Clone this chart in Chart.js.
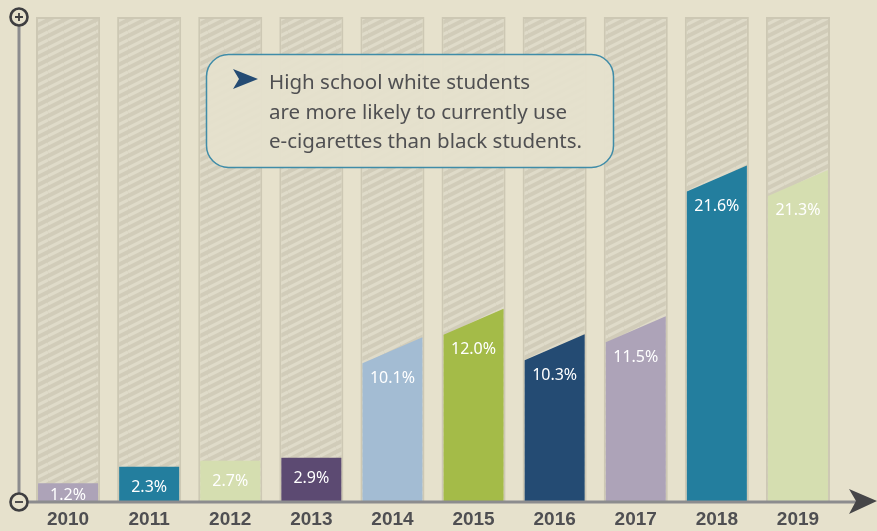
<!DOCTYPE html>
<html>
<head>
<meta charset="utf-8">
<script src="https://cdn.jsdelivr.net/npm/chart.js@4.4.1/dist/chart.umd.min.js"></script>
<style>
  html, body { margin: 0; padding: 0; background: #e6e1cc; }
  #wrap { width: 877px; height: 531px; }
</style>
</head>
<body>
<div id="wrap"><canvas id="myChart" width="877" height="531"></canvas></div>
<script>
const years = ["2010", "2011", "2012", "2013", "2014", "2015", "2016", "2017", "2018", "2019"];
const usage = [1.2, 2.3, 2.7, 2.9, 10.1, 12.0, 10.3, 11.5, 21.6, 21.3];
const barColors = ["#ada3b8", "#237e9e", "#d5deb0", "#5c4a72", "#a3bcd3", "#a4bb48", "#244b73", "#ada3b8", "#237e9e", "#d5deb0"];
const noteLines = ["High school white students", "are more likely to currently use", "e-cigarettes than black students."];
const yMax = 32.4;
const backdrop = years.map(() => yMax);

const ctx = document.getElementById("myChart").getContext("2d");

function makeHatch() {
  const c = document.createElement("canvas");
  c.width = 16;
  c.height = 8;
  const g = c.getContext("2d");
  g.fillStyle = "#d1ccb9";
  g.fillRect(0, 0, 16, 8);
  g.strokeStyle = "#dfdbc9";
  g.lineWidth = 3.2;
  for (let k = -1; k <= 1; k++) {
    g.beginPath();
    g.moveTo(0, 8 + k * 8);
    g.lineTo(16, k * 8);
    g.stroke();
  }
  return g.createPattern(c, "repeat");
}

// colored bars with slanted tops
const slantBars = {
  id: "slantBars",
  beforeDatasetDraw(chart, args) {
    if (args.index !== 0) return;
    const c = chart.ctx;
    const meta = chart.getDatasetMeta(0);
    c.save();
    meta.data.forEach((bar, i) => {
      const p = bar.getProps(["x", "y", "base", "width"], true);
      const l = p.x - p.width / 2;
      const r = p.x + p.width / 2;
      const s = p.base - p.y > 80 ? 13 : 0;
      c.fillStyle = barColors[i];
      c.beginPath();
      c.moveTo(l, p.base);
      c.lineTo(l, p.y + s);
      c.lineTo(r, p.y - s);
      c.lineTo(r, p.base);
      c.closePath();
      c.fill();
    });
    c.restore();
    return false;
  },
  afterDatasetsDraw(chart) {
    const c = chart.ctx;
    const meta = chart.getDatasetMeta(0);
    c.save();
    c.fillStyle = "#ffffff";
    c.font = "16px 'Noto Sans', Lato, sans-serif";
    c.textAlign = "center";
    c.textBaseline = "middle";
    meta.data.forEach((bar, i) => {
      const p = bar.getProps(["x", "y", "base"], true);
      const h = p.base - p.y;
      const off = h > 80 ? 28 : Math.min(21, h - 6);
      c.fillText(usage[i].toFixed(1) + "%", p.x, p.y + off);
    });
    c.restore();
  }
};

// axes, arrow, circles and the note box
const decor = {
  id: "decor",
  afterDatasetsDraw(chart) {
    const c = chart.ctx;
    c.save();
    // axis lines
    c.strokeStyle = "#8c8c8e";
    c.lineWidth = 3;
    c.beginPath();
    c.moveTo(19, 26);
    c.lineTo(19, 493);
    c.moveTo(28, 502);
    c.lineTo(856, 502);
    c.stroke();
    // arrow head
    c.fillStyle = "#464648";
    c.beginPath();
    c.moveTo(877, 501);
    c.lineTo(849, 489);
    c.lineTo(856, 501);
    c.lineTo(849, 514);
    c.closePath();
    c.fill();
    // plus / minus circles
    [[17, true], [502, false]].forEach(([cy, plus]) => {
      c.fillStyle = "#e6e1cc";
      c.strokeStyle = "#3e3e40";
      c.lineWidth = 2.6;
      c.beginPath();
      c.arc(19, cy, 8.5, 0, Math.PI * 2);
      c.fill();
      c.stroke();
      c.lineWidth = 1.8;
      c.beginPath();
      c.moveTo(15, cy);
      c.lineTo(23, cy);
      if (plus) {
        c.moveTo(19, cy - 4);
        c.lineTo(19, cy + 4);
      }
      c.stroke();
    });
    // note box
    c.fillStyle = "rgba(229,225,205,0.96)";
    c.strokeStyle = "#3f8ca8";
    c.lineWidth = 1.5;
    c.beginPath();
    c.roundRect(206.5, 54.5, 407, 113, 22);
    c.fill();
    c.stroke();
    c.fillStyle = "#244b73";
    c.beginPath();
    c.moveTo(258, 79);
    c.lineTo(233, 69);
    c.lineTo(239, 79);
    c.lineTo(233, 89);
    c.closePath();
    c.fill();
    c.fillStyle = "#505052";
    c.font = "20.5px 'Noto Sans', Lato, sans-serif";
    c.textAlign = "left";
    c.textBaseline = "alphabetic";
    noteLines.forEach((t, i) => c.fillText(t, 269, 89 + i * 29.5));
    c.restore();
  }
};

const config = {
  type: "bar",
  data: {
    labels: years,
    datasets: [
      {
        data: usage,
        backgroundColor: barColors,
        barPercentage: 0.74,
        categoryPercentage: 1,
        grouped: false,
      },
      {
        data: backdrop,
        backgroundColor: makeHatch(),
        borderColor: "#cdc8b4",
        borderWidth: 2,
        barPercentage: 0.79,
        categoryPercentage: 1,
        grouped: false,
      },
    ],
  },
  options: {
    responsive: false,
    animation: false,
    layout: {
      padding: { left: 27.5, right: 38.5, top: 17, bottom: -7 },
    },
    plugins: {
      legend: { display: false },
      tooltip: { enabled: false },
    },
    scales: {
      x: {
        grid: { display: false, drawTicks: false, tickLength: 0 },
        border: { display: false },
        ticks: {
          color: "#4f4f52",
          padding: 7,
          font: { family: "'Liberation Sans Narrow', 'Arial Narrow', sans-serif", size: 19, weight: "bold" },
        },
      },
      y: { display: false, min: 0, max: yMax },
    },
  },
  plugins: [slantBars, decor],
};

const newChart = new Chart(ctx, config);
</script>
</body>
</html>
